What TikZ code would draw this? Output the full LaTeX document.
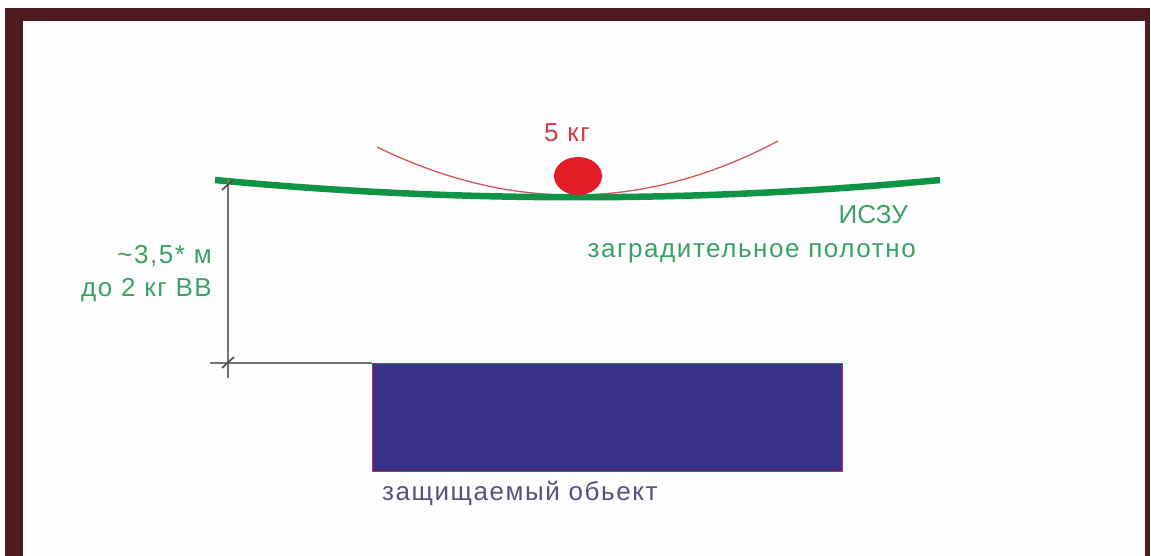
\documentclass[tikz,border=0pt]{standalone}
\usepackage{fontspec}
\usetikzlibrary{shapes.geometric}
\setmainfont{Liberation Sans}
\newfontfamily\spacedfont{Liberation Sans}[LetterSpace=6.0]
\definecolor{framec}{HTML}{4E1C20}
\definecolor{innerc}{HTML}{FDFDFD}
\definecolor{netc}{HTML}{0E9444}
\definecolor{greentext}{HTML}{3AA264}
\definecolor{redtext}{HTML}{D03C44}
\definecolor{ballc}{HTML}{E31E26}
\definecolor{arcc}{HTML}{D8565A}
\definecolor{objc}{HTML}{3A3086}
\definecolor{objedge}{HTML}{C8285A}
\definecolor{objtext}{HTML}{555282}
\definecolor{dimc}{HTML}{737373}
\tikzset{
  lbl/.style={inner sep=0pt, font=\spacedfont\fontsize{26}{30}\selectfont},
  plainlbl/.style={inner sep=0pt, font=\fontsize{26}{30}\selectfont},
  dimline/.style={draw=dimc, line width=1.4pt},
  tickmark/.style={draw=black!70, line width=1.6pt}
}
\begin{document}
\begin{tikzpicture}[x=1pt,y=-1pt]
\useasboundingbox (0,0) rectangle (1151,556);
\fill[white] (0,0) rectangle (1151,556);
\fill[framec] (5,8) rectangle (1150,556);
\fill[innerc] (23,21) rectangle (1145,556);

% protected object
\node[draw=objedge, fill=objc, line width=1pt, minimum width=470pt, minimum height=108pt, inner sep=0pt, anchor=north west] (obj) at (372,363) {};
\node[lbl, text=objtext, anchor=base west] (objlbl) at (382,500) {защищаемый обьект};

% net ends
\coordinate (netL) at (215,180);
\coordinate (netR) at (940,180);
% deflection arc
\coordinate (arcL) at (377,147);
\coordinate (arcR) at (778,141);
\draw[arcc, line width=1.3pt] (arcL) .. controls (512,213) and (646,211) .. (arcR);
% net
\draw[netc, line width=6.5pt] (netL) .. controls (457,203) and (698,203) .. (netR);

% ball
\node[ellipse, fill=ballc, minimum width=48pt, minimum height=38pt, inner sep=0pt] (ball) at (578,176) {};
\node[lbl, text=redtext, anchor=base] (mass) at (567,142) {5 кг};

% labels
\node[plainlbl, text=greentext, anchor=base east] (iszu) at (908,223) {ИСЗУ};
\node[lbl, text=greentext, anchor=base east] (net) at (916,258) {заградительное полотно};
\node[lbl, text=greentext, anchor=base east] (d1) at (212,263) {{\char"7E}3,5* м};
\node[lbl, text=greentext, anchor=base east] (d2) at (212,296) {до 2 кг ВВ};

% dimension
\coordinate (dimT) at (228,180);
\coordinate (dimB) at (228,378);
\coordinate (dimH) at (210,363);
\draw[dimline] (dimT) -- (dimB);
\draw[dimline] (dimH) -- (obj.north west);
\coordinate (t1a) at (222,190);
\coordinate (t1b) at (233,180);
\coordinate (t2a) at (222,368);
\coordinate (t2b) at (234,357);
\draw[tickmark] (t1a) -- (t1b);
\draw[tickmark] (t2a) -- (t2b);
\end{tikzpicture}
\end{document}
